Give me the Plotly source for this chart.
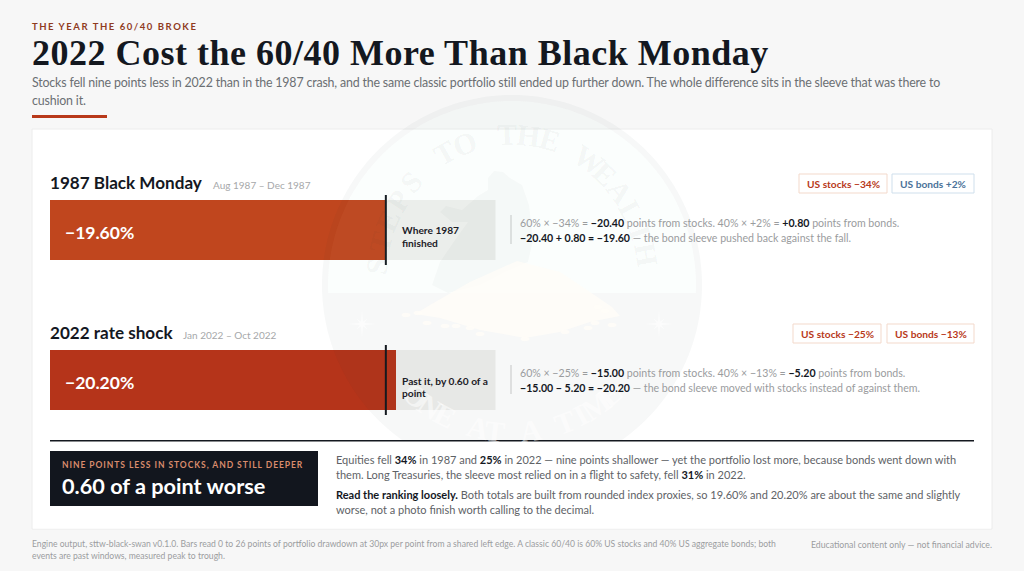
import numpy as np
import plotly.graph_objects as go

# ---------- data ----------
EVENTS = ["1987 Black Monday", "2022 rate shock"]
WINDOWS = ["Aug 1987 – Dec 1987", "Jan 2022 – Oct 2022"]
DRAWDOWN = [19.60, 20.20]
BENCHMARK = [19.60, 19.60]
SCALE_MAX = [26, 26]
BAR_LABELS = ["−19.60%", "−20.20%"]
BAR_COLORS = ["#C0461E", "#B5341A"]
NOTES = [["Where 1987", "finished"], ["Past it, by 0.60 of a", "point"]]
STOCK_BADGES = ["US stocks −34%", "US stocks −25%"]
BOND_BADGES = ["US bonds +2%", "US bonds −13%"]

W, H = 1024, 571
INK = "#14181F"
BODY = "#5E6266"
GREY = "#9B9D9F"
SANS = "Lato"
SERIF = "Liberation Serif"


def px(x):
    return x / W


def py(y):
    return 1 - y / H


ann = []
shapes = []


def text(x, y, s, size, color=BODY, bold=False, anchor="left", font=SANS, spacing=None, angle=0):
    if spacing is not None:
        s = f'<span style="letter-spacing:{spacing}px">{s}</span>'
    if bold:
        s = f"<b>{s}</b>"
    ann.append(dict(xref="paper", yref="paper", x=px(x), y=py(y), text=s, showarrow=False,
                    xanchor=anchor, yanchor="middle", align="left", textangle=angle,
                    borderpad=0, borderwidth=0,
                    font=dict(family=font, size=size, color=color)))


def rect(x0, y0, x1, y1, fill, line=None, lw=1, layer="below"):
    shapes.append(dict(type="rect", xref="paper", yref="paper", x0=px(x0), x1=px(x1),
                       y0=py(y0), y1=py(y1), fillcolor=fill, layer=layer,
                       line=dict(color=line or "rgba(0,0,0,0)", width=lw if line else 0)))


def poly(points, fill, layer="above"):
    d = "M" + " L".join(f"{px(a):.5f},{py(b):.5f}" for a, b in points) + " Z"
    shapes.append(dict(type="path", xref="paper", yref="paper", path=d, fillcolor=fill,
                       line=dict(width=0), layer=layer))


# ---------- page furniture ----------
rect(32, 129, 992, 529, "#FFFFFF", "#ECECEC")
rect(32, 115, 107, 118, "#B8391A")

# ---------- watermark ----------
CX, CY, R_OUT, R_IN, BAND = 512, 285, 190, 184, 293
MINT = "rgba(140,230,180,0.03)"
SHADE = "rgba(20,50,50,0.035)"
theta = np.linspace(0, 2 * np.pi, 181)
outer = [(CX + R_OUT * np.cos(t), CY + R_OUT * np.sin(t)) for t in theta]
a0 = np.arcsin((BAND - CY) / R_IN)
inner_up = [(CX + R_IN * np.cos(t), CY - R_IN * np.sin(t)) for t in (np.linspace(-a0, np.pi + a0, 150))]
poly(inner_up, MINT)
d = "M" + " L".join(f"{px(a):.5f},{py(b):.5f}" for a, b in outer) + " Z M" + \
    " L".join(f"{px(a):.5f},{py(b):.5f}" for a, b in inner_up) + " Z"
shapes.append(dict(type="path", xref="paper", yref="paper", path=d, fillcolor=SHADE,
                   line=dict(width=0), layer="above"))
# hiker
poly([(488, 178), (494, 171), (503, 172), (510, 178), (522, 185), (529, 205), (533, 240), (528, 262),
      (505, 272), (480, 285), (448, 293), (432, 285), (440, 262), (455, 240), (468, 222), (452, 222),
      (440, 212), (446, 206), (462, 210), (478, 196), (488, 190)], "rgba(20,50,50,0.025)")
# coins
COIN = "rgba(255,253,248,0.8)"
poly([(517, 261), (560, 272), (590, 292), (612, 307), (620, 316), (590, 322), (560, 332), (525, 338),
      (480, 330), (440, 318), (415, 314), (430, 305), (470, 282)], COIN)
for ex, ey in [(406, 315), (418, 313), (427, 323), (445, 326), (456, 326), (470, 328), (480, 334),
               (525, 339), (565, 332), (588, 328), (595, 323), (612, 325), (605, 311), (598, 307)]:
    eth = np.linspace(0, 2 * np.pi, 16)
    poly([(ex + 4.5 * np.cos(t), ey + 2.2 * np.sin(t)) for t in eth], COIN)
# stars
for sx, sy in [(362, 324), (659, 324)]:
    pts = []
    for k in range(16):
        ang = k * np.pi / 8 - np.pi / 2
        rad = 15 if k % 4 == 0 else (8 if k % 2 == 0 else 2.5)
        pts.append((sx + rad * np.cos(ang), sy + rad * np.sin(ang)))
    poly(pts, "rgba(255,255,255,0.6)")
# hide the mark behind the conclusion block
rect(33, 441, 991, 528.5, "#FFFFFF", layer="above")
LETTER = "rgba(30,60,60,0.055)"
top_word = "STEPS TO THE WEALTH"
for i, ch in enumerate(top_word):
    if ch == " ":
        continue
    deg = -84 + 9.1 * i
    text(CX + 136 * np.sin(np.radians(deg)), 281 - 147 * np.cos(np.radians(deg)), ch, 30, LETTER, True,
         "center", "Liberation Serif", angle=deg)
bottom_word = "ONE AT A TIME"
for i, ch in enumerate(bottom_word):
    if ch == " ":
        continue
    deg = 41 - 6.9 * i
    r = 147
    text(CX - r * np.sin(np.radians(deg)), CY + r * np.cos(np.radians(deg)), ch, 30, "rgba(255,255,255,0.55)", True,
         "center", "Liberation Serif", angle=deg)

# ---------- header ----------
text(32, 26, "THE YEAR THE 60/40 BROKE", 9.5, "#8F3B1E", True, spacing=1.55)
text(32, 53, "2022 Cost the 60/40 More Than Black Monday", 36, INK, True, font=SERIF, spacing=0.5)
text(32, 83, "Stocks fell nine points less in 2022 than in the 1987 crash, and the same classic portfolio still ended up further down. The whole difference sits in the sleeve that was there to", 12.4, "#6B6F73", spacing=-0.17)
text(32, 100, "cushion it.", 12.4, "#6B6F73", spacing=-0.17)

# ---------- rows ----------
ROW_Y = [230, 380]
TITLE_DATE_X = [213, 183]
BADGES_X = [((799, 887), (892, 974)), ((793, 881), (887, 974))]
BOND_COL = [("#CFDFEC", "#4A7299"), ("#F3D9CB", "#B8391A")]
DARK = "<b style='color:#14181F'>{}</b>"
DETAIL = [
    [f"60% × −34% = {DARK.format('−20.40')} points from stocks. 40% × +2% = {DARK.format('+0.80')} points from bonds.",
     f"{DARK.format('−20.40 + 0.80 = −19.60')} — the bond sleeve pushed back against the fall."],
    [f"60% × −25% = {DARK.format('−15.00')} points from stocks. 40% × −13% = {DARK.format('−5.20')} points from bonds.",
     f"{DARK.format('−15.00 − 5.20 = −20.20')} — the bond sleeve moved with stocks instead of against them."],
]
for i, ry in enumerate(ROW_Y):
    text(50, ry - 48, EVENTS[i], 17.1, INK, True)
    text(TITLE_DATE_X[i], ry - 45.5, WINDOWS[i], 10, "#A6A8AA")
    (a0_, a1_), (b0_, b1_) = BADGES_X[i]
    rect(a0_, ry - 56, a1_, ry - 37, "#FFFFFF", "#F3D9CB")
    rect(b0_, ry - 56, b1_, ry - 37, "#FFFFFF", BOND_COL[i][0])
    text((a0_ + a1_) / 2, ry - 46, STOCK_BADGES[i], 10.2, "#B8391A", True, "center")
    text((b0_ + b1_) / 2, ry - 46, BOND_BADGES[i], 10.2, BOND_COL[i][1], True, "center")
    rect(510, ry - 15, 512, ry + 14, "#E6E6E6")
    text(520, ry - 7, DETAIL[i][0], 10.6, "#9A9C9E")
    text(520, ry + 7.5, DETAIL[i][1], 10.6, "#9A9C9E")
    text(402, ry + 0.5, NOTES[i][0], 10.2, "#1C2027", True)
    text(402, ry + 13, NOTES[i][1], 10.2, "#1C2027", True)
    ann.append(dict(xref="x", yref="y", x=0, y=EVENTS[i], xshift=15, yshift=-2, text=f"<b>{BAR_LABELS[i]}</b>",
                    showarrow=False, xanchor="left", yanchor="middle", borderpad=0, borderwidth=0,
                    font=dict(family=SANS, size=17.5, color="#FFFFFF")))

# ---------- conclusion ----------
rect(50, 440, 974, 441.5, INK, layer="above")
rect(50, 451, 318, 506, "#12161E", layer="above")
text(62, 465, "NINE POINTS LESS IN STOCKS, AND STILL DEEPER", 8.5, "#D98C6C", True, spacing=0.95)
text(62, 486, "0.60 of a point worse", 21.7, "#FFFFFF", True)
text(336, 459, f"Equities fell {DARK.format('34%')} in 1987 and {DARK.format('25%')} in 2022 — nine points shallower — yet the portfolio lost more, because bonds went down with", 11)
text(336, 474, f"them. Long Treasuries, the sleeve most relied on in a flight to safety, fell {DARK.format('31%')} in 2022.", 11)
text(336, 494, f"{DARK.format('Read the ranking loosely.')} Both totals are built from rounded index proxies, so 19.60% and 20.20% are about the same and slightly", 11)
text(336, 509, "worse, not a photo finish worth calling to the decimal.", 11)

# ---------- footer ----------
text(32, 544, "Engine output, sttw-black-swan v0.1.0. Bars read 0 to 26 points of portfolio drawdown at 30px per point from a shared left edge. A classic 60/40 is 60% US stocks and 40% US aggregate bonds; both", 8.6, GREY)
text(32, 556, "events are past windows, measured peak to trough.", 8.6, GREY)
text(992, 544, "Educational content only — not financial advice.", 8.7, GREY, anchor="right")

# ---------- traces ----------
fig = go.Figure()
fig.add_bar(y=EVENTS, x=SCALE_MAX, orientation="h", width=0.4, marker=dict(color="#EFEFED", line=dict(width=0)),
            hoverinfo="skip", showlegend=False)
fig.add_bar(y=EVENTS, x=DRAWDOWN, orientation="h", width=0.4, marker=dict(color=BAR_COLORS, line=dict(width=0)),
            showlegend=False)
fig.add_scatter(y=EVENTS, x=BENCHMARK, mode="markers", cliponaxis=False,
                marker=dict(symbol="line-ns", size=50, line=dict(color=INK, width=2), color=INK),
                showlegend=False)

top_px, bot_px = 190, 420
fig.update_layout(
    width=W, height=H, margin=dict(l=0, r=0, t=0, b=0), barmode="overlay",
    paper_bgcolor="#F7F7F7", plot_bgcolor="rgba(0,0,0,0)", bargap=0,
    xaxis=dict(domain=[px(50), px(495.5)], range=[0, 26], visible=False, fixedrange=True),
    yaxis=dict(domain=[py(bot_px), py(top_px)], type="category", categoryorder="array", categoryarray=EVENTS,
               range=[1 + (bot_px - 380) / 150, -(230 - top_px) / 150], visible=False, fixedrange=True),
    shapes=shapes, annotations=ann,
)
fig.write_html("out.html", config=dict(displayModeBar=False),
               post_script="document.body.style.margin='0';document.body.style.background='#F7F7F7';")
